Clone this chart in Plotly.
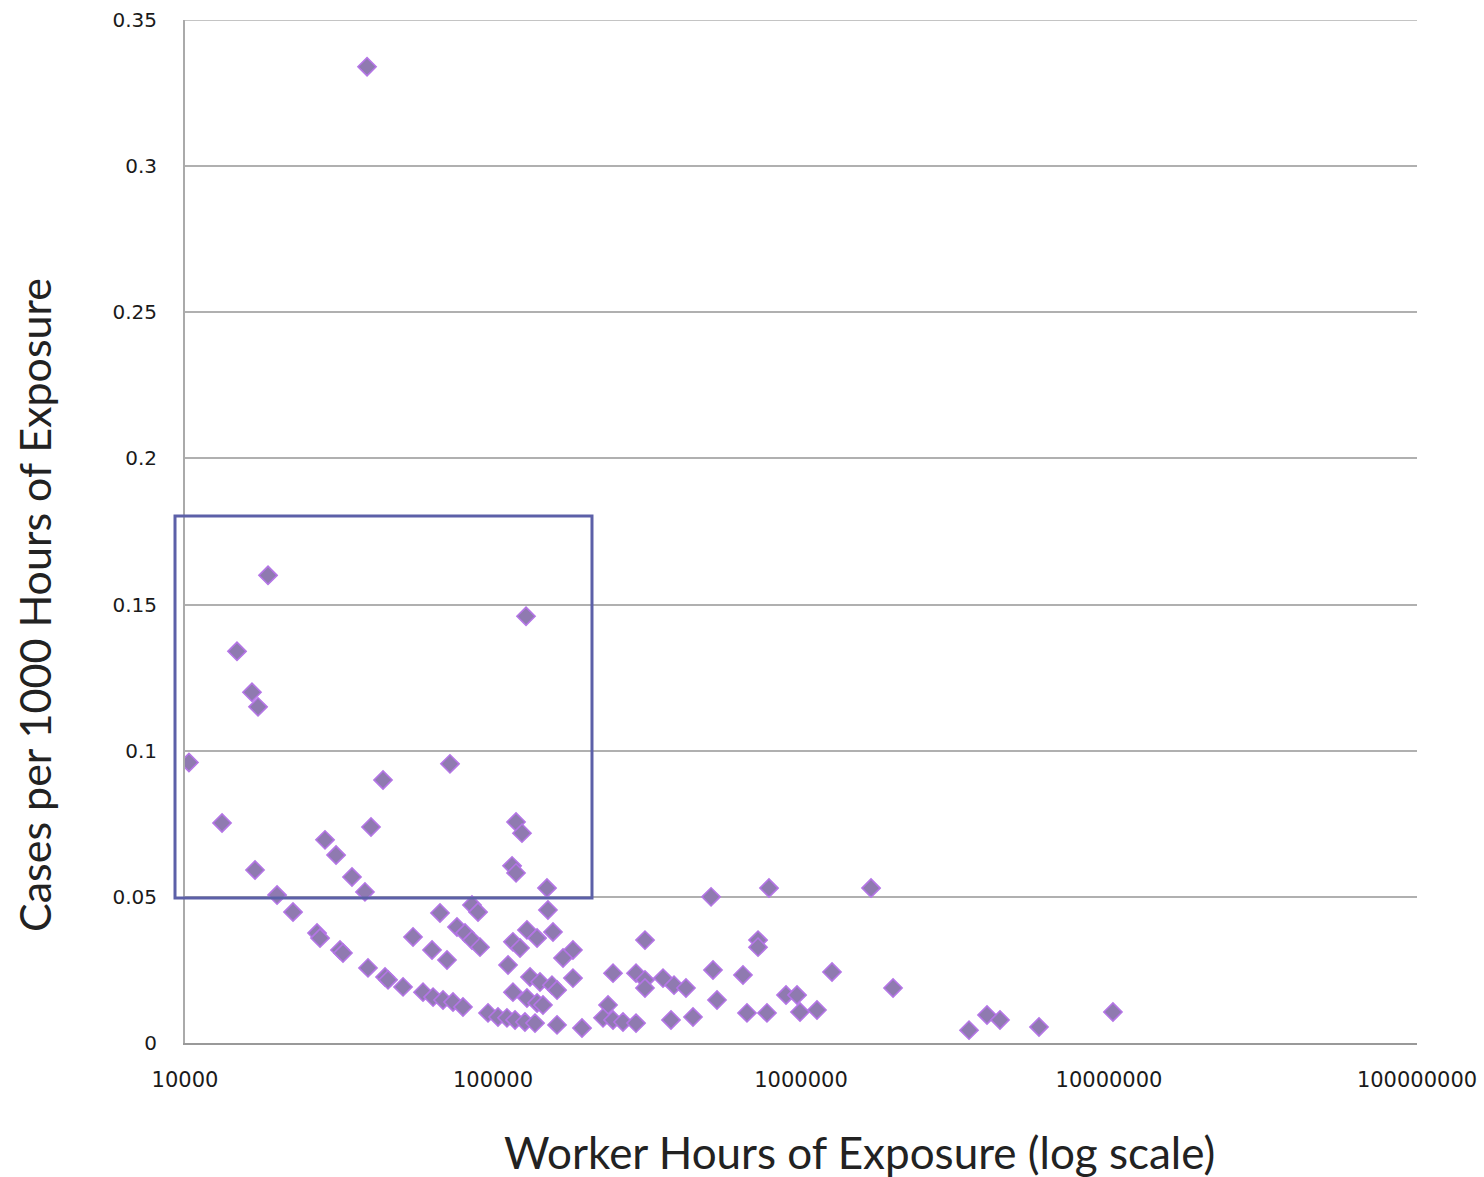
import numpy as np
import plotly.graph_objects as go

# Worker hours of exposure (x) and cases per 1000 hours (y)
hours = [
    39000, 18600, 14750, 16500, 17260, 128000, 10300, 72500, 43950, 13190,
    40170, 118800, 124200, 28480, 30930, 16880, 115300, 118800, 34850, 38400,
    149700, 19900, 22420, 26830, 27440, 31860, 32580, 39280, 44610, 45620,
    51040, 59260, 63880, 68820, 74160, 79900, 67290, 85450, 89400, 76400,
    81120, 85450, 90740, 55000, 63400, 70900, 150800, 116100, 122400, 128900,
    139000, 156600, 181800, 168800, 111900, 131900, 142100, 155400, 161400, 181800,
    116100, 128900, 139000, 145300, 96340, 103800, 111000, 117900, 127000, 136900,
    161400, 194500, 236300, 227600, 245300, 264300, 291300, 245300, 291300, 311500,
    311500, 356400, 387000, 423200, 311500, 378400, 446000, 518000, 533700, 648100,
    667800, 775500, 725200, 725200, 894000, 970600, 992600, 1127000, 1261000, 1990000,
    510400, 787200, 1688000, 3512000, 4017000, 4427000, 5926000, 10300000,
]
cases = [
    0.334, 0.160, 0.134, 0.120, 0.115, 0.146, 0.096, 0.0955, 0.090, 0.0753,
    0.0739, 0.0756, 0.0718, 0.0695, 0.0643, 0.0592, 0.0606, 0.0582, 0.0568, 0.0517,
    0.0530, 0.0506, 0.0448, 0.0376, 0.0359, 0.0318, 0.0308, 0.0257, 0.0226, 0.0216,
    0.0192, 0.0174, 0.0157, 0.0147, 0.0140, 0.0123, 0.0445, 0.0472, 0.0448, 0.0397,
    0.0376, 0.0352, 0.0328, 0.0363, 0.0318, 0.0284, 0.0455, 0.0346, 0.0325, 0.0387,
    0.0359, 0.0380, 0.0318, 0.0291, 0.0267, 0.0226, 0.0209, 0.0198, 0.0181, 0.0222,
    0.0174, 0.0154, 0.0137, 0.0130, 0.0103, 0.0089, 0.0086, 0.0079, 0.0072, 0.0068,
    0.0062, 0.0051, 0.0130, 0.0086, 0.0079, 0.0072, 0.0068, 0.0239, 0.0239, 0.0216,
    0.0188, 0.0222, 0.0198, 0.0188, 0.0352, 0.0079, 0.0089, 0.0250, 0.0147, 0.0233,
    0.0103, 0.0103, 0.0352, 0.0328, 0.0164, 0.0164, 0.0106, 0.0113, 0.0243, 0.0188,
    0.0500, 0.0530, 0.0530, 0.0044, 0.0096, 0.0079, 0.0055, 0.0106,
]

x_ticks = [10000, 100000, 1000000, 10000000, 100000000]
x_tick_labels = ["10000", "100000", "1000000", "10000000", "100000000"]
y_ticks = [0, 0.05, 0.1, 0.15, 0.2, 0.25, 0.3, 0.35]
y_tick_labels = ["0", "0.05", "0.1", "0.15", "0.2", "0.25", "0.3", "0.35"]

# highlighted region
box_hours = [9280, 209600]
box_cases = [0.0496, 0.1803]

X_RANGE = [4, 8]          # log10 of axis extent
Y_RANGE = [0, 0.35]

fig = go.Figure()
fig.add_trace(go.Scatter(
    x=hours, y=cases, mode="markers",
    marker=dict(symbol="diamond", size=14, color="#8f7ab0",
                line=dict(color="#b475e6", width=1.6)),
    showlegend=False,
))

# top gridline at 0.35 (range edge)
fig.add_shape(type="line", xref="paper", yref="y", x0=0, x1=1,
              y0=Y_RANGE[1], y1=Y_RANGE[1], line=dict(color="#b0b0b0", width=1.5))

# box drawn in paper coords (so it may extend left of the axis), converted via the log axis
bx = [(np.log10(v) - X_RANGE[0]) / (X_RANGE[1] - X_RANGE[0]) for v in box_hours]
fig.add_shape(type="rect", xref="paper", yref="y",
              x0=bx[0], x1=bx[1], y0=box_cases[0], y1=box_cases[1],
              line=dict(color="#5c60a8", width=3), layer="above")

ytick_font = dict(family="DejaVu Sans", size=20, color="#1a1a1a")
xtick_font = dict(family="DejaVu Sans", size=21, color="#1a1a1a")
fig.update_xaxes(type="log", range=X_RANGE, tickvals=x_ticks, ticktext=x_tick_labels,
                 showgrid=False, showline=True, linecolor="#999", linewidth=2,
                 zeroline=False, tickfont=xtick_font, ticks="", ticklabelstandoff=17,
                 automargin=False)
fig.update_yaxes(range=Y_RANGE, tickvals=y_ticks, ticktext=y_tick_labels,
                 showgrid=True, gridcolor="#b0b0b0", gridwidth=1.5,
                 showline=True, linecolor="#aaa", linewidth=2,
                 zeroline=False, tickfont=ytick_font, ticks="", ticklabelstandoff=22,
                 automargin=False)

fig.add_annotation(text="Worker Hours of Exposure (log scale)", xref="paper", yref="paper",
                   x=(859 - 185) / 1232, y=-(1152 - 1043) / 1023, showarrow=False,
                   font=dict(family="Lato", size=44, color="#222"),
                   xanchor="center", yanchor="middle")
fig.add_annotation(text="Cases per 1000 Hours of Exposure", xref="paper", yref="paper",
                   x=-(185 - 35) / 1232, y=(1043 - 605) / 1023, showarrow=False,
                   font=dict(family="Lato", size=43, color="#222"), textangle=-90,
                   xanchor="center", yanchor="middle")

fig.update_layout(width=1484, height=1177, margin=dict(l=185, r=67, t=20, b=134),
                  plot_bgcolor="white", paper_bgcolor="white")
fig.write_html("out.html")
